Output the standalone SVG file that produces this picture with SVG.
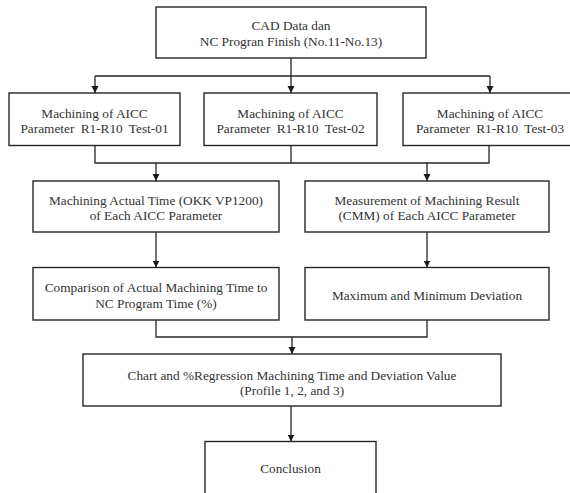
<svg xmlns="http://www.w3.org/2000/svg" width="570" height="493" viewBox="0 0 570 493">
<style>
.box{fill:#fff;stroke:#262626;stroke-width:1.4}
.t{font-family:"Liberation Serif","Times New Roman",serif;font-size:13.3px;fill:#333;text-anchor:middle}
.c{fill:none;stroke:#262626;stroke-width:1.3}
</style>
<defs>
<marker id="ah" markerUnits="userSpaceOnUse" markerWidth="8" markerHeight="8" refX="7" refY="3.5" orient="auto">
<path d="M0,0 L7,3.5 L0,7 z" fill="#1a1a1a"/>
</marker>
</defs>
<rect width="570" height="493" fill="#fff"/>
<g id="connectors">
<path class="c" d="M291,58 V76 M95,76 H490"/>
<path class="c" d="M95,76 V93" marker-end="url(#ah)"/>
<path class="c" d="M291,76 V93" marker-end="url(#ah)"/>
<path class="c" d="M490,76 V93" marker-end="url(#ah)"/>
<path class="c" d="M95,145.5 V163 H489 V145.5 M291,145.5 V163"/>
<path class="c" d="M156,163 V181" marker-end="url(#ah)"/>
<path class="c" d="M427,163 V181" marker-end="url(#ah)"/>
<path class="c" d="M156,232 V267.5" marker-end="url(#ah)"/>
<path class="c" d="M427,232 V267.5" marker-end="url(#ah)"/>
<path class="c" d="M156,320 V337 H427 V320"/>
<path class="c" d="M292,337 V354" marker-end="url(#ah)"/>
<path class="c" d="M291,406 V441.5" marker-end="url(#ah)"/>
</g>
<g id="n-cad">
<rect class="box" x="156" y="7" width="270" height="51"/>
<text class="t" x="291" y="30">CAD Data dan</text>
<text class="t" x="291" y="45.5">NC Progran Finish (No.11-No.13)</text>
</g>
<g id="n-test01">
<rect class="box" x="9" y="93" width="171" height="52.5"/>
<text class="t" x="94.5" y="117.5">Machining of AICC</text>
<text class="t" x="94.5" y="133" word-spacing="3">Parameter R1-R10 Test-01</text>
</g>
<g id="n-test02">
<rect class="box" x="204" y="93" width="173" height="52.5"/>
<text class="t" x="290.5" y="117.5">Machining of AICC</text>
<text class="t" x="290.5" y="133" word-spacing="3">Parameter R1-R10 Test-02</text>
</g>
<g id="n-test03">
<rect class="box" x="403" y="93" width="174" height="52.5"/>
<text class="t" x="490" y="117.5">Machining of AICC</text>
<text class="t" x="490" y="133" word-spacing="3">Parameter R1-R10 Test-03</text>
</g>
<g id="n-actual">
<rect class="box" x="33" y="181" width="246" height="51"/>
<text class="t" x="156" y="204.5">Machining Actual Time (OKK VP1200)</text>
<text class="t" x="156" y="220">of Each AICC Parameter</text>
</g>
<g id="n-measure">
<rect class="box" x="305" y="181" width="244" height="51"/>
<text class="t" x="427" y="204.5">Measurement of Machining Result</text>
<text class="t" x="427" y="220">(CMM) of Each AICC Parameter</text>
</g>
<g id="n-compare">
<rect class="box" x="33" y="267.5" width="246" height="52.5"/>
<text class="t" x="156" y="292">Comparison of Actual Machining Time to</text>
<text class="t" x="156" y="307.5">NC Program Time (%)</text>
</g>
<g id="n-deviation">
<rect class="box" x="305" y="267.5" width="244" height="52.5"/>
<text class="t" x="427" y="299.5">Maximum and Minimum Deviation</text>
</g>
<g id="n-chart">
<rect class="box" x="83" y="354" width="418" height="52"/>
<text class="t" x="292" y="379.5">Chart and %Regression Machining Time and Deviation Value</text>
<text class="t" x="292" y="395">(Profile 1, 2, and 3)</text>
</g>
<g id="n-conclusion">
<rect class="box" x="205" y="441.5" width="171" height="70"/>
<text class="t" x="290.5" y="473">Conclusion</text>
</g>
</svg>
